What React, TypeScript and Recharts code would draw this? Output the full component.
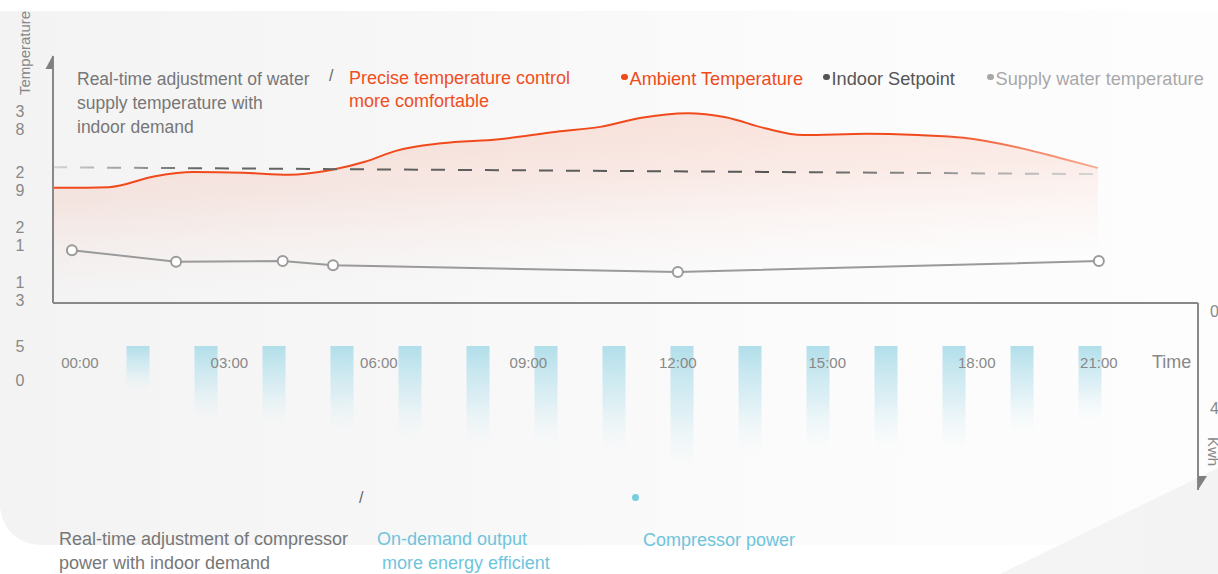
import React from 'react';
import { ComposedChart, Area, Line, XAxis, YAxis, BarChart, Bar } from 'recharts';

const FONT = '"Liberation Sans", Arial, Helvetica, sans-serif';

// ---- time axis (hours) ----
const timeTicks = [0, 3, 6, 9, 12, 15, 18, 20.45];
const timeLabels = ['00:00', '03:00', '06:00', '09:00', '12:00', '15:00', '18:00', '21:00'];

// ---- temperature axis ----
const tempTicks = [0, 5, 13, 21, 29, 38];

// ---- ambient temperature ----
const ambientHours = [-0.54, 0.58, 1.51, 2.27, 3.27, 4.19, 5.04, 5.72, 6.34, 7.26, 8.41, 9.57, 10.44, 11.24, 12.2, 12.96, 13.75, 14.51, 15.81, 16.82, 17.74, 18.88, 19.65, 20.43];
const ambientTemp = [28.1, 28.2, 29.8, 30.4, 30.3, 30.0, 30.7, 31.9, 33.5, 34.6, 35.2, 36.3, 37.0, 38.3, 39.0, 38.4, 36.8, 35.8, 36.0, 35.8, 35.4, 33.9, 32.5, 31.0];

// ---- indoor setpoint ----
const setpointHours = [-0.54, 20.45];
const setpointTemp = [31.1, 30.1];

// ---- supply water temperature ----
const supplyHours = [-0.16, 1.93, 4.07, 5.08, 12.0, 20.45];
const supplyTemp = [19.0, 17.3, 17.4, 16.8, 15.8, 17.4];

// ---- compressor power ----
const powerSlots = ['1', '2', '3', '4', '5', '6', '7', '8', '9', '10', '11', '12', '13', '14', '15'];
const powerKwh = [2.0, 3.3, 3.5, 3.85, 4.1, 4.4, 4.45, 4.7, 5.35, 4.7, 4.55, 4.55, 4.55, 3.85, 3.3];
const kwhTicks = [0, 4];

// ---- legend ----
const legendNames = ['Ambient Temperature', 'Indoor Setpoint', 'Supply water temperature'];
const legendColors = ['#ee4a1c', '#555555', '#a8a8a8'];
const legendLeft = [621, 823, 987];

const ambientData = ambientHours.map((h, i) => ({ h, t: ambientTemp[i] }));
const setpointData = setpointHours.map((h, i) => ({ h, t: setpointTemp[i] }));
const supplyData = supplyHours.map((h, i) => ({ h, t: supplyTemp[i] }));
const powerData = powerSlots.map((s, i) => ({ s, p: powerKwh[i] }));

const TempTick = (props: any) => {
  const { x, y, payload } = props;
  const chars = String(payload.value).split('');
  const lh = 18;
  const start = y - ((chars.length - 1) * lh) / 2;
  return (
    <text textAnchor="middle" fill="#888" fontSize={16} fontFamily={FONT}>
      {chars.map((c, i) => (
        <tspan key={i} x={x} y={start + i * lh + 5.7}>
          {c}
        </tspan>
      ))}
    </text>
  );
};

const KwhTick = (props: any) => {
  const { x, y, payload } = props;
  return (
    <text x={x + 4} y={y + 8 + 5.7} fill="#888" fontSize={16} fontFamily={FONT}>
      {payload.value}
    </text>
  );
};

const abs = (l: number, t: number, extra: React.CSSProperties = {}): React.CSSProperties => ({
  position: 'absolute',
  left: l,
  top: t,
  whiteSpace: 'nowrap',
  fontFamily: FONT,
  ...extra,
});

export default function App() {
  return (
    <div
      style={{
        position: 'absolute',
        left: 0,
        top: 0,
        width: 1218,
        height: 574,
        overflow: 'hidden',
        background: '#ffffff',
        fontFamily: FONT,
      }}
    >
      {/* background panel */}
      <div
        style={{
          position: 'absolute',
          left: 0,
          top: 11,
          width: 1218,
          height: 534,
          borderBottomLeftRadius: 40,
          background: 'linear-gradient(90deg, #f3f3f3 0%, #f7f7f7 35%, #fbfbfb 65%, #fdfdfd 100%)',
        }}
      />
      <div
        style={{
          position: 'absolute',
          left: 0,
          top: 0,
          width: 1218,
          height: 574,
          clipPath: 'polygon(1000px 574px, 1218px 468px, 1218px 574px)',
          background: 'linear-gradient(90deg, #fbfbfb 0%, #f3f3f3 100%)',
        }}
      />

      {/* compressor power bars */}
      <div style={{ position: 'absolute', left: 0, top: 0 }}>
        <BarChart width={1218} height={574} data={powerData} margin={{ top: 303, right: 0, bottom: 84, left: 53 }}>
          <defs>
            <linearGradient id="barGrad" x1="0" y1="0" x2="0" y2="1">
              <stop offset="0%" stopColor="#addde9" stopOpacity={0.95} />
              <stop offset="50%" stopColor="#c6e7f0" stopOpacity={0.55} />
              <stop offset="95%" stopColor="#e6f4f8" stopOpacity={0} />
            </linearGradient>
          </defs>
          <XAxis dataKey="s" type="category" hide padding={{ left: 50.5, right: 74.5 }} />
          <YAxis yAxisId="bars" hide domain={[-1.77, 5.94]} reversed allowDataOverflow />
          <YAxis
            yAxisId="kwh"
            orientation="right"
            width={20}
            domain={[0, 7.71]}
            reversed
            ticks={kwhTicks}
            interval={0}
            tickLine={false}
            tick={<KwhTick />}
            axisLine={{ stroke: '#888', strokeWidth: 2 }}
            allowDataOverflow
          />
          <Bar yAxisId="bars" dataKey="p" barSize={23} fill="url(#barGrad)" isAnimationActive={false} />
        </BarChart>
      </div>

      {/* temperature chart */}
      <div style={{ position: 'absolute', left: 0, top: 0 }}>
        <ComposedChart width={1218} height={574} margin={{ top: 56, right: 20, bottom: 241, left: 13 }}>
          <defs>
            <linearGradient id="ambFill" x1="0" y1="0" x2="0.22" y2="1">
              <stop offset="0%" stopColor="#f26a44" stopOpacity={0.2} />
              <stop offset="45%" stopColor="#f4805f" stopOpacity={0.13} />
              <stop offset="92%" stopColor="#f8b7a4" stopOpacity={0} />
            </linearGradient>
            <linearGradient id="ambStroke" x1="0" y1="0" x2="1" y2="0">
              <stop offset="0%" stopColor="#f04a1c" />
              <stop offset="84%" stopColor="#f04a1c" />
              <stop offset="100%" stopColor="#f7ab95" />
            </linearGradient>
            <linearGradient id="setStroke" x1="0" y1="0" x2="1" y2="0">
              <stop offset="0%" stopColor="#d4d4d4" />
              <stop offset="14%" stopColor="#666" />
              <stop offset="70%" stopColor="#555" />
              <stop offset="100%" stopColor="#d8d8d8" />
            </linearGradient>
          </defs>
          <XAxis
            dataKey="h"
            type="number"
            domain={[-0.54, 22.44]}
            ticks={timeTicks}
            interval={0}
            tickFormatter={(v: number) => timeLabels[timeTicks.indexOf(v)] ?? ''}
            tickLine={false}
            tickSize={6}
            tickMargin={48}
            height={30}
            tick={{ fill: '#888', fontSize: 15, fontFamily: FONT }}
            axisLine={{ stroke: '#888', strokeWidth: 2 }}
            allowDataOverflow
          />
          <YAxis
            type="number"
            width={40}
            domain={[11.28, 47.35]}
            ticks={tempTicks}
            interval={0}
            tickLine={false}
            tickSize={6}
            tickMargin={27}
            tick={<TempTick />}
            axisLine={{ stroke: '#888', strokeWidth: 2 }}
            allowDataOverflow
          />
          <Area
            data={ambientData}
            dataKey="t"
            type="monotone"
            stroke="url(#ambStroke)"
            strokeWidth={2}
            fill="url(#ambFill)"
            fillOpacity={1}
            dot={false}
            activeDot={false}
            isAnimationActive={false}
          />
          <Line
            data={setpointData}
            dataKey="t"
            type="linear"
            stroke="url(#setStroke)"
            strokeWidth={2}
            strokeDasharray="14 13"
            dot={false}
            activeDot={false}
            isAnimationActive={false}
          />
          <Line
            data={supplyData}
            dataKey="t"
            type="linear"
            stroke="#9a9a9a"
            strokeWidth={2}
            dot={{ r: 5, fill: '#ffffff', stroke: '#9a9a9a', strokeWidth: 2 }}
            activeDot={false}
            isAnimationActive={false}
          />
        </ComposedChart>
      </div>

      {/* axis arrowheads */}
      <svg width={1218} height={574} style={{ position: 'absolute', left: 0, top: 0, pointerEvents: 'none' }}>
        <polygon points="53,55 53,69 45.5,69" fill="#808080" />
        <polygon points="1198,476 1207,476 1198,490" fill="#808080" />
      </svg>

      {/* axis titles */}
      <div
        style={abs(17, 95, {
          fontSize: 15,
          lineHeight: '15px',
          color: '#888',
          transform: 'rotate(-90deg)',
          transformOrigin: '0 0',
        })}
      >
        Temperature
      </div>
      <div style={abs(1152, 351, { fontSize: 18, lineHeight: '22px', color: '#888' })}>Time</div>
      <div
        style={abs(1221, 437, {
          fontSize: 15,
          lineHeight: '15px',
          color: '#888',
          transform: 'rotate(90deg)',
          transformOrigin: '0 0',
        })}
      >
        Kwh
      </div>

      {/* top annotations */}
      <div style={abs(77, 67, { fontSize: 17.5, lineHeight: '24px', color: '#777' })}>
        Real-time adjustment of water
        <br />
        supply temperature with
        <br />
        indoor demand
      </div>
      <div style={abs(329, 65, { fontSize: 16, lineHeight: '22px', color: '#666' })}>/</div>
      <div style={abs(349, 67, { fontSize: 18, lineHeight: '23px', color: '#f04e22' })}>
        Precise temperature control
        <br />
        more comfortable
      </div>

      {/* legend */}
      {legendNames.map((name, i) => (
        <div
          key={name}
          style={abs(legendLeft[i], 67, {
            fontSize: 18.2,
            lineHeight: '24px',
            color: legendColors[i],
            display: 'flex',
            alignItems: 'center',
          })}
        >
          <span
            style={{
              display: 'inline-block',
              width: 6.5,
              height: 6.5,
              borderRadius: 4,
              background: legendColors[i],
              marginRight: 2,
              marginTop: -4,
            }}
          />
          <span>{name}</span>
        </div>
      ))}

      {/* bottom annotations */}
      <div style={abs(359, 487, { fontSize: 16, lineHeight: '22px', color: '#666' })}>/</div>
      <div
        style={{
          position: 'absolute',
          left: 632,
          top: 494,
          width: 7,
          height: 7,
          borderRadius: 4,
          background: '#7ccce0',
        }}
      />
      <div style={abs(59, 527, { fontSize: 18, lineHeight: '24px', color: '#777' })}>
        Real-time adjustment of compressor
        <br />
        power with indoor demand
      </div>
      <div style={abs(377, 527, { fontSize: 18, lineHeight: '24px', color: '#6fc4dc' })}>
        On-demand output
        <br />
        &nbsp;more energy efficient
      </div>
      <div style={abs(643, 528, { fontSize: 18, lineHeight: '24px', color: '#6fc4dc' })}>Compressor power</div>
    </div>
  );
}
